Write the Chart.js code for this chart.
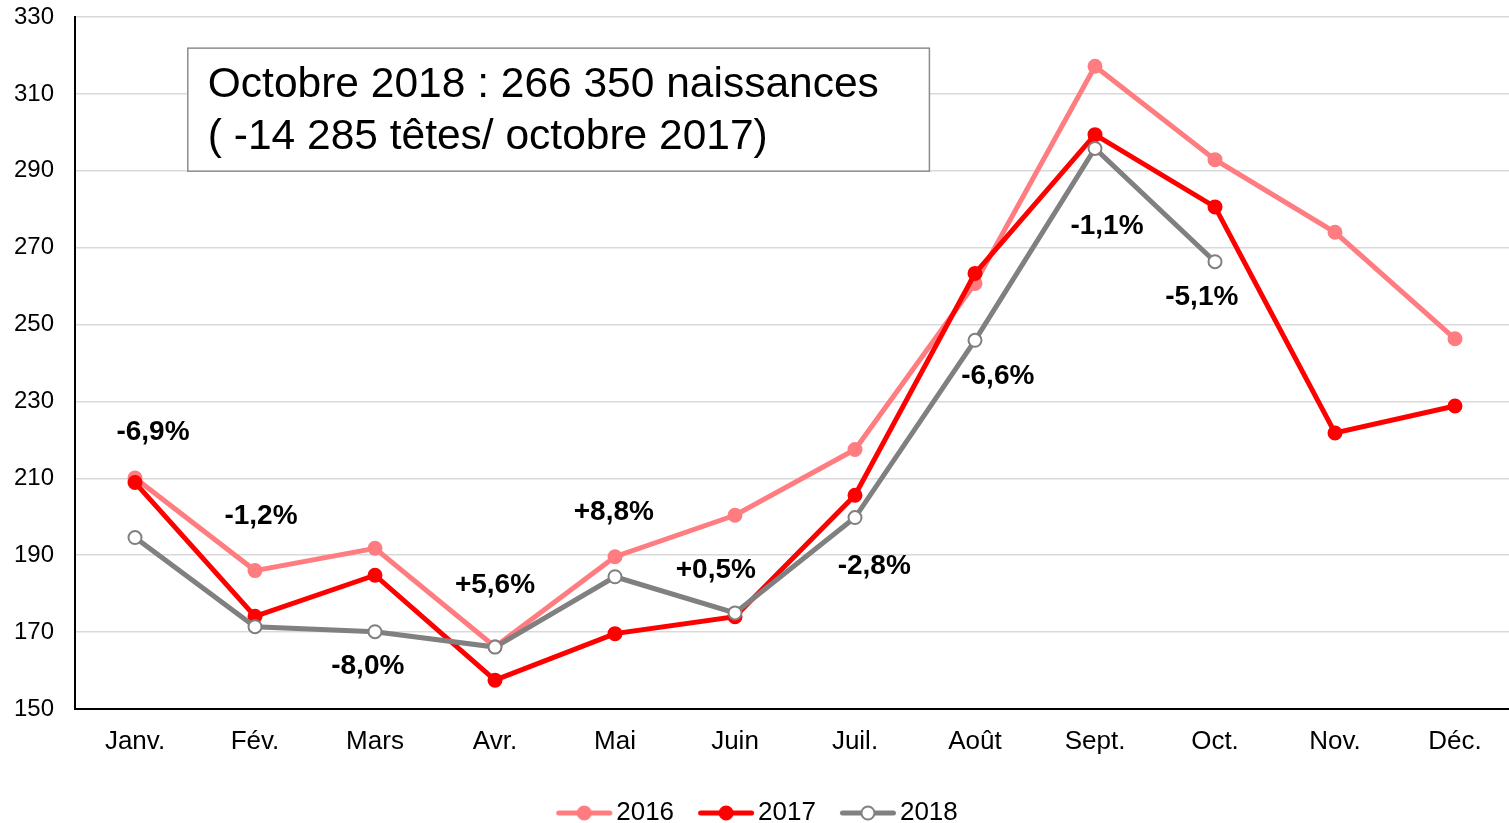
<!DOCTYPE html>
<html>
<head>
<meta charset="utf-8">
<title>Naissances</title>
<script src="https://cdn.jsdelivr.net/npm/chart.js"></script>
<style>
  body { margin: 0; background: #ffffff; }
  #chart { display: block; }
</style>
</head>
<body>
<canvas id="chart" width="1509" height="823"></canvas>
<script>
  // données (milliers de naissances)
  const mois = ["Janv.", "Fév.", "Mars", "Avr.", "Mai", "Juin", "Juil.", "Août", "Sept.", "Oct.", "Nov.", "Déc."];
  const annees = ["2016", "2017", "2018"];
  const naissances2016 = [210.1, 186.0, 191.8, 166.2, 189.6, 200.4, 217.5, 260.7, 317.2, 292.9, 274.0, 246.3];
  const naissances2017 = [208.9, 174.1, 184.8, 157.5, 169.6, 174.0, 205.6, 263.3, 299.4, 280.6, 221.8, 228.8];
  const naissances2018 = [194.6, 171.4, 170.1, 166.1, 184.4, 175.0, 199.8, 245.9, 295.8, 266.35];
  const axeMin = 150, axeMax = 330, axePas = 20;

  // variations 2018 / 2017 et leur point d'ancrage (index du mois, valeur)
  const variations = ["-6,9%", "-1,2%", "-8,0%", "+5,6%", "+8,8%", "+0,5%", "-2,8%", "-6,6%", "-1,1%", "-5,1%"];
  const ancrages = [[0.15, 222], [1.05, 200], [1.94, 161.2], [3.0, 182.2], [3.99, 201.2], [4.84, 186.2], [6.16, 187.1], [7.19, 236.6], [8.1, 275.5], [8.89, 257.1]];

  const encadre = ["Octobre 2018 : 266 350 naissances", "( -14 285 têtes/ octobre 2017)"];

  const couleurs = ["#ff7c80", "#ff0000", "#808080"];
  const police = '"Liberation Sans", Arial, sans-serif';

  // symbole de légende : trait + rond (décalé à droite pour coller au texte)
  function symbole(couleur, fond) {
    const c = document.createElement("canvas");
    c.width = 76; c.height = 20;
    const g = c.getContext("2d");
    g.strokeStyle = couleur;
    g.lineWidth = 5;
    g.lineCap = "round";
    g.beginPath(); g.moveTo(21.5, 10); g.lineTo(72.5, 10); g.stroke();
    g.beginPath(); g.arc(47, 10, 6.5, 0, Math.PI * 2);
    g.fillStyle = fond; g.fill();
    g.lineWidth = 2; g.stroke();
    return c;
  }
  const symboles = [symbole(couleurs[0], couleurs[0]), symbole(couleurs[1], couleurs[1]), symbole(couleurs[2], "#ffffff")];

  const etiquettesPlugin = {
    id: "etiquettes",
    afterLayout(chart) {
      // la zone de tracé déborde un peu à droite, comme dans l'original
      const zone = chart.chartArea, x = chart.scales.x;
      zone.right += 6; zone.width += 6;
      x.right += 6; x.width += 6;
      x.configure();
      // légende plus bas et recentrée
      const leg = chart.legend;
      leg.top += 13; leg.bottom += 13;
      leg.left -= 2; leg.right -= 2;
    },
    afterDatasetsDraw(chart) {
      const { ctx, scales: { x, y } } = chart;
      ctx.save();
      ctx.font = "bold 28px " + police;
      ctx.fillStyle = "#000";
      ctx.textAlign = "center";
      ctx.textBaseline = "middle";
      variations.forEach((t, i) => {
        ctx.fillText(t, x.getPixelForValue(ancrages[i][0]), y.getPixelForValue(ancrages[i][1]));
      });

      // encadré
      const gauche = x.getPixelForValue(0.44), droite = x.getPixelForValue(6.62);
      const haut = y.getPixelForValue(321.9), bas = y.getPixelForValue(289.9);
      ctx.fillStyle = "#ffffff";
      ctx.fillRect(gauche, haut, droite - gauche, bas - haut);
      ctx.strokeStyle = "#8c8c8c";
      ctx.lineWidth = 1.5;
      ctx.strokeRect(gauche, haut, droite - gauche, bas - haut);
      ctx.fillStyle = "#000";
      ctx.textAlign = "left";
      ctx.font = "42.5px " + police;
      ctx.fillText(encadre[0], gauche + 20, haut + 37);
      ctx.fillText(encadre[1], gauche + 20, haut + 89);
      ctx.restore();
    }
  };

  new Chart(document.getElementById("chart"), {
    type: "line",
    data: {
      labels: mois,
      datasets: [
        { label: annees[0], data: naissances2016, order: 3,
          borderColor: couleurs[0], backgroundColor: couleurs[0],
          pointBackgroundColor: couleurs[0], pointBorderColor: couleurs[0] },
        { label: annees[1], data: naissances2017, order: 2,
          borderColor: couleurs[1], backgroundColor: couleurs[1],
          pointBackgroundColor: couleurs[1], pointBorderColor: couleurs[1] },
        { label: annees[2], data: naissances2018, order: 1,
          borderColor: couleurs[2], backgroundColor: couleurs[2],
          pointBackgroundColor: "#ffffff", pointBorderColor: couleurs[2] }
      ]
    },
    options: {
      responsive: false,
      animation: false,
      layout: { autoPadding: false, padding: { top: 17, right: 0, bottom: 0, left: 0 } },
      elements: {
        line: { borderWidth: 5, tension: 0 },
        point: { radius: 6.5, borderWidth: 2, hoverRadius: 6.5 }
      },
      scales: {
        x: {
          offset: true,
          grid: { display: false, drawTicks: false },
          border: { display: true, color: "#000", width: 2 },
          ticks: { color: "#000", font: { family: police, size: 26 }, padding: 17, maxRotation: 0, autoSkip: false },
          afterFit(s) {
            s.height = 63;
            s.paddingLeft = 0;
            s.paddingRight = 0;
          }
        },
        y: {
          min: axeMin, max: axeMax,
          grid: { color: "#d9d9d9", lineWidth: 1.5, drawTicks: false },
          border: { display: true, color: "#000", width: 2 },
          ticks: { stepSize: axePas, color: "#000", font: { family: police, size: 24 }, padding: 21 },
          afterFit(s) {
            s.width = 75;
            s.paddingTop = 0;
            s.paddingBottom = 0;
          }
        }
      },
      plugins: {
        tooltip: { enabled: false },
        legend: {
          position: "bottom",
          labels: {
            usePointStyle: true,
            pointStyleWidth: 56,
            padding: 15,
            color: "#000",
            font: { family: police, size: 26 },
            generateLabels(chart) {
              return chart.data.datasets.map((d, i) => ({
                text: d.label, pointStyle: symboles[i], datasetIndex: i,
                fillStyle: couleurs[i], strokeStyle: couleurs[i], lineWidth: 0, hidden: false
              }));
            }
          }
        }
      }
    },
    plugins: [etiquettesPlugin]
  });
</script>
</body>
</html>
